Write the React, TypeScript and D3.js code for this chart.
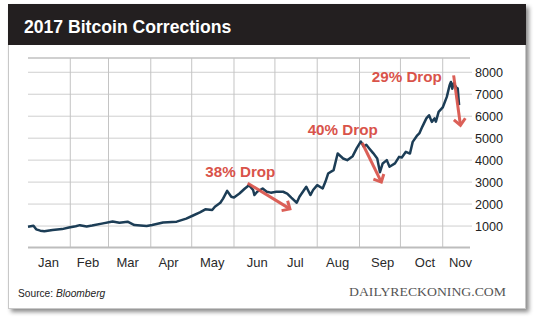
import React from "react";
import * as d3 from "d3";

const dates = [
  "2017-01-01","2017-01-05","2017-01-07","2017-01-10","2017-01-13","2017-01-19","2017-01-26","2017-01-31",
  "2017-02-05","2017-02-08","2017-02-13","2017-02-17","2017-02-25","2017-03-04","2017-03-09","2017-03-15",
  "2017-03-20","2017-03-29","2017-04-02","2017-04-10","2017-04-20","2017-04-27","2017-05-02","2017-05-07",
  "2017-05-11","2017-05-16","2017-05-18","2017-05-22","2017-05-24","2017-05-27","2017-05-30","2017-06-01",
  "2017-06-05","2017-06-09","2017-06-12","2017-06-15","2017-06-16","2017-06-18","2017-06-22","2017-06-25",
  "2017-06-28","2017-07-02","2017-07-07","2017-07-10","2017-07-13","2017-07-17","2017-07-19","2017-07-24",
  "2017-07-27","2017-07-29","2017-08-01","2017-08-05","2017-08-07","2017-08-09","2017-08-13","2017-08-16",
  "2017-08-20","2017-08-23","2017-08-27","2017-08-30","2017-09-02","2017-09-04","2017-09-06","2017-09-08",
  "2017-09-11","2017-09-14","2017-09-16","2017-09-18","2017-09-21","2017-09-23","2017-09-27","2017-09-30",
  "2017-10-02","2017-10-05","2017-10-08","2017-10-10","2017-10-13","2017-10-15","2017-10-17","2017-10-20",
  "2017-10-22","2017-10-24","2017-10-26","2017-10-27","2017-10-29","2017-11-01","2017-11-04","2017-11-06","2017-11-07",
  "2017-11-08","2017-11-09","2017-11-11","2017-11-12","2017-11-13",
];
const prices = [
  970, 1015, 850, 790, 760, 820, 860, 930,
  990, 1040, 980, 1020, 1120, 1210, 1150, 1200,
  1045, 1000, 1045, 1160, 1200, 1340, 1480, 1620,
  1760, 1730, 1880, 2060, 2250, 2600, 2330, 2300,
  2480, 2710, 2860, 2640, 2410, 2560, 2710, 2560,
  2520, 2560, 2560, 2480, 2290, 2060, 2330, 2790,
  2410, 2640, 2860, 2710, 3015, 3390, 3545, 4300,
  4076, 4000, 4180, 4545, 4848, 4620, 4700, 4545,
  4320, 4076, 3450, 3850, 4000, 3700, 3850, 4150,
  4120, 4380, 4300, 4830, 5100, 5230, 5515, 5900,
  6045, 5742, 5900, 5750, 6197, 6400, 6879, 7400, 7561,
  7250, 7500, 7300, 7270, 6500,
];

const yTicks = [1000, 2000, 3000, 4000, 5000, 6000, 7000, 8000];
const monthNames = ["Jan","Feb","Mar","Apr","May","Jun","Jul","Aug","Sep","Oct","Nov"];
const monthLabelDates = [
  "2017-01-16","2017-02-14","2017-03-15","2017-04-14","2017-05-16","2017-06-18",
  "2017-07-16","2017-08-16","2017-09-18","2017-10-19","2017-11-14",
];
const gridMonthStarts = [
  "2017-02-01","2017-03-01","2017-04-01","2017-05-01","2017-06-01",
  "2017-07-01","2017-08-01","2017-09-01","2017-10-01","2017-11-01",
];

const dropLabels = ["38% Drop", "40% Drop", "29% Drop"];
const dropLabelDates = ["2017-05-11", "2017-07-25", "2017-09-10"];
const dropLabelValues = [3250, 5150, 7560];
const arrowStartDates = ["2017-06-11", "2017-09-03", "2017-11-09"];
const arrowStartValues = [2950, 4780, 7860];
const arrowEndDates = ["2017-07-12", "2017-09-17", "2017-11-14"];
const arrowEndValues = [1780, 3000, 5590];

const parse = d3.timeParse("%Y-%m-%d");

export default function App() {
  const W = 540, H = 321;
  const x = d3.scaleTime()
    .domain([parse("2017-01-01")!, parse("2017-11-21")!])
    .range([28, 470]);
  const y = d3.scaleLinear().domain([0, 8650]).range([248, 58]);

  const data = dates.map((d, i) => ({ date: parse(d)!, value: prices[i] }));
  const line = d3.line<{ date: Date; value: number }>()
    .x((d) => x(d.date))
    .y((d) => y(d.value))
    .curve(d3.curveLinear);

  const red = "#d9534a";
  const navy = "#1c3d56";
  const sans = "'Liberation Sans', Arial, Helvetica, sans-serif";

  const arrows = arrowStartDates.map((_, i) => {
    const x1 = x(parse(arrowStartDates[i])!);
    const y1 = y(arrowStartValues[i]);
    const x2 = x(parse(arrowEndDates[i])!);
    const y2 = y(arrowEndValues[i]);
    const ang = Math.atan2(y2 - y1, x2 - x1);
    const L = 8.5;
    const spread = Math.PI / 4.2;
    const hx1 = x2 - L * Math.cos(ang - spread);
    const hy1 = y2 - L * Math.sin(ang - spread);
    const hx2 = x2 - L * Math.cos(ang + spread);
    const hy2 = y2 - L * Math.sin(ang + spread);
    return { x1, y1, x2, y2, head: `M${hx1},${hy1}L${x2},${y2}L${hx2},${hy2}` };
  });

  return (
    <svg
      width={W}
      height={H}
      style={{ position: "absolute", left: 0, top: 0, background: "#fff" }}
    >
      <defs>
        <filter id="shadow" x="-5%" y="-5%" width="115%" height="115%">
          <feDropShadow dx="3" dy="3" stdDeviation="2.2" floodColor="#000" floodOpacity="0.45" />
        </filter>
      </defs>
      <rect x={8.5} y={4.5} width={517} height={304} fill="#fff" stroke="#c8c8c8" filter="url(#shadow)" />
      <rect x={8} y={4} width={518} height={41} fill="#231f20" />
      <text x={24} y={33} fill="#fff" fontFamily={sans} fontWeight="bold" fontSize={17.6}>
        2017 Bitcoin Corrections
      </text>

      {yTicks.map((t) => (
        <line key={t} x1={28} x2={472} y1={y(t)} y2={y(t)} stroke="#cfcfcf" strokeWidth={1} />
      ))}
      {gridMonthStarts.map((d) => (
        <line key={d} x1={x(parse(d)!)} x2={x(parse(d)!)} y1={58} y2={247} stroke="#c4c4c4" strokeWidth={1} />
      ))}
      <line x1={28} x2={470} y1={58} y2={58} stroke="#c0c0c0" strokeWidth={1.5} />
      <line x1={28} x2={470} y1={247.5} y2={247.5} stroke="#bdbdbd" strokeWidth={2} />

      {yTicks.map((t) => (
        <text key={t} x={475} y={y(t) + 4.5} fill="#222" fontFamily={sans} fontSize={12.6}>
          {t}
        </text>
      ))}
      {monthNames.map((m, i) => (
        <text key={m} x={x(parse(monthLabelDates[i])!)} y={267} textAnchor="middle" fill="#2a2a2a" fontFamily={sans} fontSize={13}>
          {m}
        </text>
      ))}

      <path d={line(data) || ""} fill="none" stroke={navy} strokeWidth={2.5} strokeLinejoin="round" />

      {arrows.map((a, i) => (
        <g key={i} stroke={red} strokeWidth={3} fill="none" strokeLinecap="butt" opacity={0.92}>
          <line x1={a.x1} y1={a.y1} x2={a.x2} y2={a.y2} />
          <path d={a.head} strokeLinejoin="miter" />
        </g>
      ))}
      {dropLabels.map((l, i) => (
        <text key={l} x={x(parse(dropLabelDates[i])!)} y={y(dropLabelValues[i])} fill={red} fontFamily={sans} fontWeight="bold" fontSize={15.2}>
          {l}
        </text>
      ))}

      <text x={18} y={297} fill="#222" fontFamily={sans} fontSize={10.2}>
        Source: <tspan fontStyle="italic">Bloomberg</tspan>
      </text>
      <text x={349} y={296} fill="#555" fontFamily="'Liberation Serif', 'Times New Roman', serif" fontSize={13} textLength={157} lengthAdjust="spacingAndGlyphs">
        DAILYRECKONING.COM
      </text>
    </svg>
  );
}
